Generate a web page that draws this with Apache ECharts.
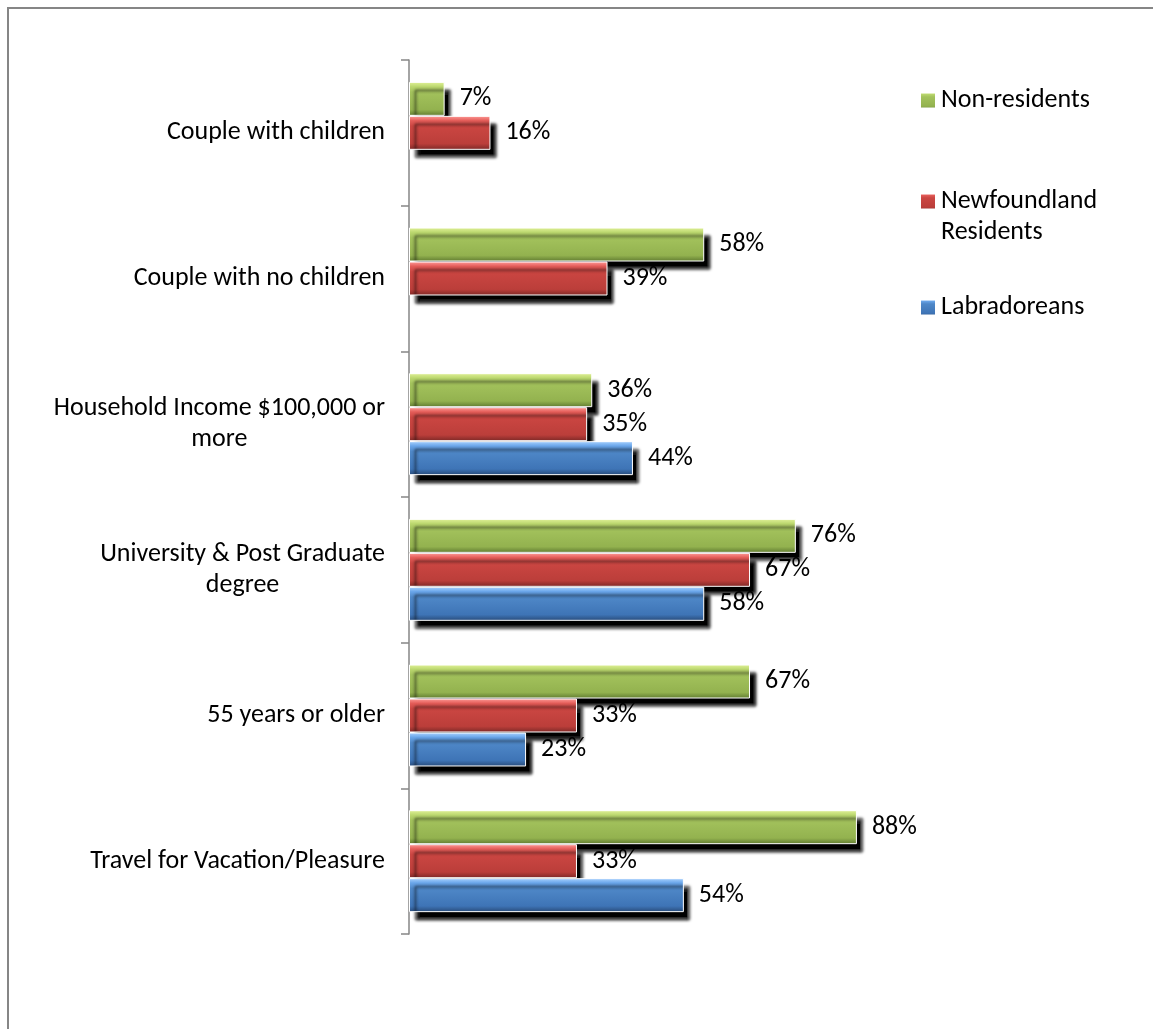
<!DOCTYPE html>
<html>
<head>
<meta charset="utf-8">
<script src="https://cdn.jsdelivr.net/npm/echarts@6/dist/echarts.min.js"></script>
<style>
  html, body { margin: 0; padding: 0; background: #fff; }
  #chart { width: 1153px; height: 1029px; }
</style>
</head>
<body>
<div id="chart"></div>
<script>
const categories = [
  'Couple with children',
  'Couple with no children',
  'Household Income $100,000 or more',
  'University & Post Graduate degree',
  '55 years or older',
  'Travel for Vacation/Pleasure'
];
const seriesNames = ['Non-residents', 'Newfoundland Residents', 'Labradoreans'];
const nonResidents = [7, 58, 36, 76, 67, 88];
const nlResidents = [16, 39, 35, 67, 33, 33];
const labradoreans = [null, null, 44, 58, 23, 54];

const FONT = 'Calibri, Carlito, Lato, sans-serif';
const FS = 26;

// word-wrap a category name; lines are then centred on each other like Excel does
const measure = document.createElement('canvas').getContext('2d');
measure.font = FS + 'px ' + FONT;
function wrap(text, maxW) {
  const lines = [];
  let cur = '';
  text.split(' ').forEach(w => {
    const next = cur ? cur + ' ' + w : w;
    if (cur && measure.measureText(next).width > maxW) {
      lines.push(cur);
      cur = w;
    } else {
      cur = next;
    }
  });
  if (cur) lines.push(cur);
  return lines;
}

// bevelled look: light top edge, dark bottom edge
const grad = (top, hi, mid, low, bottom) => new echarts.graphic.LinearGradient(0, 0, 0, 1, [
  { offset: 0, color: top },
  { offset: 0.14, color: hi },
  { offset: 0.3, color: mid },
  { offset: 0.82, color: low },
  { offset: 1, color: bottom }
]);

const colors = [
  grad('#e2f29a', '#bcd86f', '#a3c25c', '#93b24f', '#5f7a30'),
  grad('#ff9d9a', '#e45d59', '#cb4642', '#bb3e3a', '#7b2826'),
  grad('#acd4ff', '#6aa6ea', '#4f88c8', '#3e74b6', '#284a78')
];

const chart = echarts.init(document.getElementById('chart'));

const barSeries = (name, data, i) => ({
  name,
  type: 'bar',
  data,
  z: 2 + i,
  barGap: '0%',
  barCategoryGap: '30%',
  itemStyle: {
    color: colors[i],
    borderColor: '#fff',
    borderWidth: 1,
    shadowColor: 'rgba(0,0,0,1)',
    shadowBlur: 3,
    shadowOffsetX: 6,
    shadowOffsetY: 8
  },
  emphasis: { disabled: true }
});

// labels sit on a hidden copy of the axis so the bar shadows can cover them
const labelSeries = (name, data) => ({
  name: name + ' ',
  type: 'bar',
  data,
  yAxisIndex: 1,
  z: 1,
  barGap: '0%',
  barCategoryGap: '30%',
  itemStyle: { color: 'rgba(0,0,0,0)' },
  label: {
    show: true,
    position: 'right',
    distance: 15,
    formatter: '{c}%',
    color: '#000',
    fontFamily: FONT,
    fontSize: FS
  },
  silent: true,
  emphasis: { disabled: true }
});

const legendBase = {
  orient: 'vertical',
  left: 919,
  padding: 0,
  icon: 'rect',
  itemWidth: 16,
  itemHeight: 16,
  selectedMode: false,
  textStyle: { fontFamily: FONT, fontSize: FS, color: '#000', lineHeight: 31 }
};

const yAxisBase = {
  type: 'category',
  data: categories,
  inverse: true
};

chart.setOption({
  animation: false,
  backgroundColor: '#fff',
  graphic: [{
    type: 'polyline',
    shape: { points: [[8, 1029], [8, 8], [1153, 8]] },
    style: { stroke: '#868686', lineWidth: 2, fill: null }
  }],
  legend: [
    Object.assign({}, legendBase, { top: 85, data: [seriesNames[0]] }),
    Object.assign({}, legendBase, {
      top: 155,
      data: [seriesNames[1]],
      formatter: () => ' \nNewfoundland\nResidents'
    }),
    Object.assign({}, legendBase, { top: 292, data: [seriesNames[2]] })
  ],
  grid: { left: 409, right: 235, top: 60, bottom: 95, containLabel: false },
  xAxis: {
    type: 'value',
    min: 0,
    max: 100,
    show: false
  },
  yAxis: [
    Object.assign({}, yAxisBase, {
      axisLine: { show: true, lineStyle: { color: '#868686', width: 1.5 } },
      axisTick: { show: true, length: 8, lineStyle: { color: '#868686', width: 1.5 } },
      axisLabel: {
        margin: 24,
        fontFamily: FONT,
        fontSize: FS,
        lineHeight: 31,
        align: 'right',
        formatter: v => wrap(v, 352).map(l => '{c|' + l + '}').join('\n'),
        rich: { c: { align: 'center', color: '#000', fontFamily: FONT, fontSize: FS, lineHeight: 31 } }
      }
    }),
    Object.assign({}, yAxisBase, { show: false })
  ],
  series: [
    barSeries(seriesNames[0], nonResidents, 0),
    barSeries(seriesNames[1], nlResidents, 1),
    barSeries(seriesNames[2], labradoreans, 2),
    labelSeries(seriesNames[0], nonResidents),
    labelSeries(seriesNames[1], nlResidents),
    labelSeries(seriesNames[2], labradoreans)
  ]
});
</script>
</body>
</html>
